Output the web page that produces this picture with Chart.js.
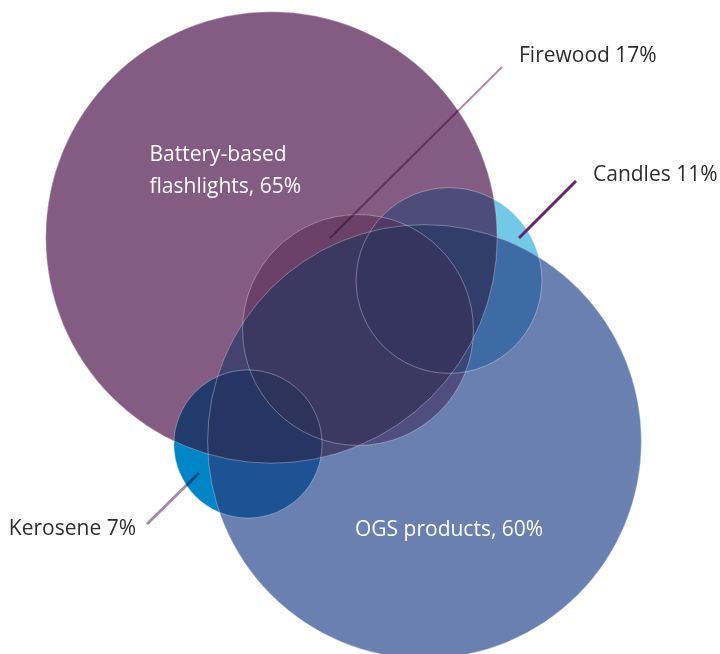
<!DOCTYPE html>
<html>
<head>
<meta charset="utf-8">
<script src="https://cdn.jsdelivr.net/npm/chart.js@4.4.1/dist/chart.umd.min.js"></script>
<style>
  html,body{margin:0;padding:0;background:#fff}
  #wrap{width:720px;height:654px;position:relative}
</style>
</head>
<body>
<div id="wrap"><canvas id="venn"></canvas></div>
<script>
// ── data (listed bottom → top, the order they are painted) ──
const groups  = ['Kerosene', 'Candles', 'Battery-based flashlights', 'Firewood', 'OGS products'];
const shares  = [7, 11, 65, 17, 60];
const centreX = [24.8, 44.9, 27.15, 35.8, 42.45];   // layout units
const centreY = [44.4, 28.05, 23.75, 33.0, 44.15];

// ── style ──
const fills = ['#0086C8', '#74C9E7', '#855B82', '#A77AA5', '#6A81B1'];
const BLEND = 0.75;          // 1 = pure multiply, 0 = opaque
const PX_PER_ROOT = 28;      // circle area ∝ share
const FONT = '21px "Open Sans"';
const DARK = '#2E2E2E';

// label placement, relative to each circle centre (px)
const notes = {
  'Battery-based flashlights': {inside:true, dx:-122, dy:-76.5, lines:i=>['Battery-based', 'flashlights, '+shares[i]+'%']},
  'OGS products': {inside:true, dx:-69.5, dy:94.5, lines:i=>[groups[i]+', '+shares[i]+'%']},
  'Firewood': {from:[-28,-92], to:[144,-263], colour:'#B48CB0', width:2, multiply:true, tx:17, ty:-5, align:'left'},
  'Kerosene': {from:[-49,29], to:[-101,80], colour:'#A88AA8', width:3, multiply:true, tx:-11, ty:11, align:'right'},
  'Candles': {from:[70,-42.5], to:[127,-99.5], colour:'#6A2368', width:3, multiply:false, tx:17, ty:0, align:'left'}
};

const blendPlugin = {
  id:'blend',
  beforeDatasetDraw(chart){ chart.ctx.save(); chart.ctx.globalCompositeOperation='multiply'; },
  afterDatasetDraw(chart,args){
    const ctx=chart.ctx;
    ctx.globalCompositeOperation='source-over';
    ctx.globalAlpha=1-BLEND;
    args.meta.data.forEach(el=>el.draw(ctx,chart.chartArea));
    ctx.restore();
  },
  afterDatasetsDraw(chart){
    const ctx=chart.ctx;
    ctx.save();
    ctx.strokeStyle='rgba(255,255,255,0.32)';
    ctx.lineWidth=1;
    groups.forEach((_,i)=>{
      chart.getDatasetMeta(i).data.forEach(el=>{
        ctx.beginPath(); ctx.arc(el.x,el.y,el.options.radius,0,Math.PI*2); ctx.stroke();
      });
    });
    ctx.restore();
  },
  afterDraw(chart){
    const ctx=chart.ctx;
    ctx.save();
    ctx.font=FONT;
    ctx.textBaseline='alphabetic';
    groups.forEach((g,i)=>{
      const n=notes[g], el=chart.getDatasetMeta(i).data[0];
      if(n.inside){
        ctx.fillStyle='#fff'; ctx.textAlign='left';
        n.lines(i).forEach((t,k)=>ctx.fillText(t, el.x+n.dx, el.y+n.dy+k*32));
        return;
      }
      const x0=el.x+n.from[0], y0=el.y+n.from[1], x1=el.x+n.to[0], y1=el.y+n.to[1];
      ctx.save();
      ctx.globalCompositeOperation=n.multiply?'multiply':'source-over';
      ctx.strokeStyle=n.colour; ctx.lineWidth=n.width;
      ctx.beginPath(); ctx.moveTo(x0,y0); ctx.lineTo(x1,y1); ctx.stroke();
      ctx.restore();
      ctx.fillStyle=DARK; ctx.textAlign=n.align;
      ctx.fillText(g+' '+shares[i]+'%', x1+n.tx, y1+n.ty);
    });
    ctx.restore();
  }
};

new Chart(document.getElementById('venn'), {
  type:'bubble',
  data:{
    datasets: groups.map((g,i)=>({
      label:g,
      data:[{x:centreX[i], y:centreY[i], r:Math.sqrt(shares[i])*PX_PER_ROOT}],
      backgroundColor:fills[i],
      borderWidth:0,
      clip:false,
      order:groups.length-i
    }))
  },
  options:{
    responsive:true, maintainAspectRatio:false, animation:false, events:[],
    layout:{padding:0, autoPadding:false},
    plugins:{legend:{display:false}, tooltip:{enabled:false}},
    scales:{
      x:{type:'linear', min:0, max:72, display:false},
      y:{type:'linear', min:0, max:65.4, reverse:true, display:false}
    }
  },
  plugins:[blendPlugin]
});
</script>
</body>
</html>
